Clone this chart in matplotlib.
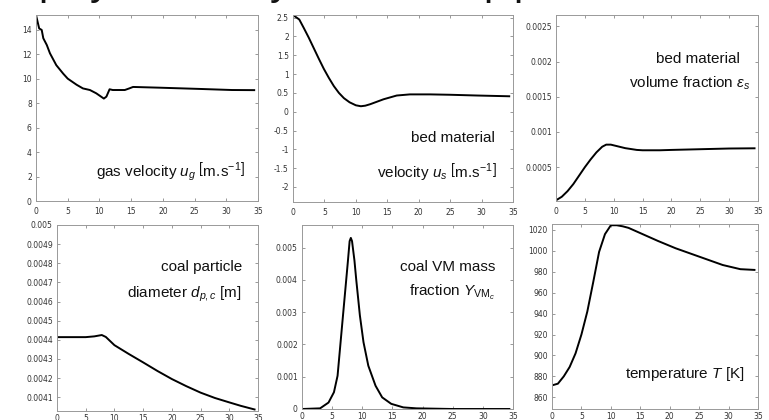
import matplotlib
matplotlib.use("Agg")
import matplotlib.pyplot as plt
from matplotlib.ticker import FormatStrFormatter, MultipleLocator

plt.rcParams.update({
    "font.family": "DejaVu Sans",
    "axes.unicode_minus": False,
    "mathtext.fontset": "custom",
    "mathtext.rm": "Liberation Sans",
    "mathtext.it": "Liberation Sans:italic",
    "mathtext.bf": "Liberation Sans:bold",
})

# gas velocity u_g [m/s]
ug_x = [0, 0.5, 0.9, 1.15, 1.7, 2.2, 3.2, 4.3, 5.0, 6.4, 7.4, 8.5, 9.5,
        10.7, 11.1, 11.6, 12.1, 14.0, 14.7, 15.3, 19.5, 25.7, 30.9, 34.4]
ug_y = [15.2, 14.1, 13.98, 13.3, 12.75, 12.07, 11.1, 10.4, 10.0, 9.5, 9.2,
        9.07, 8.8, 8.37, 8.53, 9.13, 9.07, 9.07, 9.2, 9.32, 9.26, 9.16, 9.07, 9.06]

# bed material velocity u_s [m/s]
us_x = [0, 1, 1.7, 2.5, 3.3, 4.1, 4.9, 5.7, 6.5, 7.3, 8.1, 9.0, 10.0, 10.8,
        11.5, 12.3, 14.4, 16.5, 18.6, 21.8, 25.0, 29.3, 34.4]
us_y = [2.57, 2.45, 2.23, 1.97, 1.69, 1.41, 1.14, 0.9, 0.68, 0.5, 0.36,
        0.25, 0.17, 0.145, 0.16, 0.2, 0.33, 0.43, 0.46, 0.46, 0.45, 0.43, 0.41]

# bed material volume fraction eps_s
eps_x = [0, 1, 2, 3, 4, 5, 6, 7, 8, 8.7, 9.5, 10.5, 12, 14, 15, 18, 20,
         25, 30, 34.4]
eps_y = [0.00003, 0.00008, 0.00016, 0.00026, 0.00038, 0.0005, 0.00061,
         0.00071, 0.00079, 0.00082, 0.00082, 0.0008, 0.00077, 0.000745,
         0.00074, 0.00074, 0.000745, 0.000755, 0.000765, 0.000768]

# coal particle diameter d_pc [m]
dp_x = [0, 5, 6.5, 7.8, 8.5, 10, 12.5, 15, 17.5, 20, 22.5, 25, 27.5, 30,
        32, 34.4]
dp_y = [0.004414, 0.004414, 0.004418, 0.004425, 0.004415, 0.004372,
        0.004326, 0.004282, 0.004237, 0.004195, 0.004158, 0.004124,
        0.004096, 0.004073, 0.004055, 0.004036]

# coal volatile matter mass fraction Y_VMc
yvm_x = [0, 3.0, 4.4, 5.3, 5.9, 6.4, 7.0, 7.6, 7.9, 8.1, 8.3, 8.7, 9.0,
         9.6, 10.2, 11.0, 12.2, 13.3, 14.8, 16.8, 19.0, 25, 34.4]
yvm_y = [0, 0.00002, 0.0002, 0.00052, 0.00103, 0.00207, 0.00331, 0.00455,
         0.0052, 0.0053, 0.0052, 0.0046, 0.0040, 0.0029, 0.00207, 0.00134,
         0.00072, 0.00036, 0.00016, 0.00005, 0.00002, 0.0, 0.0]

# temperature T [K]
temp_x = [0, 1, 2, 3, 4, 5, 6, 7, 8, 9, 10, 11, 12, 13, 15, 18, 21, 25,
          29, 32, 34.4]
temp_y = [871.4, 873, 880, 889, 902, 920, 942, 970, 999, 1016, 1024.5,
          1024.5, 1023.5, 1022, 1017, 1009.5, 1002.5, 994.5, 986.5, 982.5,
          981.8]

W, H = 769, 420
fig = plt.figure(figsize=(W / 100, H / 100), dpi=100)


def px_axes(left, top, right, bottom):
    return fig.add_axes([left / W, 1 - bottom / H,
                         (right - left) / W, (bottom - top) / H])


def style(ax, ylim, ystep, xpad):
    ax.set_xlim(0, 35)
    ax.set_ylim(*ylim)
    ax.xaxis.set_major_locator(MultipleLocator(5))
    ax.yaxis.set_major_locator(MultipleLocator(ystep))
    ax.yaxis.set_major_formatter(FormatStrFormatter("%g"))
    ax.tick_params(direction="in", length=2.5, width=0.6, color="#888888",
                   labelsize=5.5, labelcolor="#333333", top=True, right=True,
                   pad=3)
    ax.tick_params(axis="x", pad=xpad)
    for s in ax.spines.values():
        s.set_color("#999999")
        s.set_linewidth(0.7)


def label(ax, x, y, s):
    ax.text(x, y, s, transform=ax.transAxes, ha="right", va="baseline",
            fontsize=11, family="Liberation Sans", color="#111111")


line = dict(color="black", lw=1.4)
unit = r"$\left[\mathrm{m.}\!\mathrm{s}^{-1}\right]$"

ax1 = px_axes(36, 15, 258, 201)
ax1.plot(ug_x, ug_y, **line)
style(ax1, (0, 15.2), 2, 4)
label(ax1, 0.941, 0.129, r"gas velocity $u_g$ " + unit)

ax2 = px_axes(293, 15, 513, 202)
ax2.plot(us_x, us_y, **line)
style(ax2, (-2.4, 2.57), 0.5, 4)
label(ax2, 0.918, 0.322, "bed material")
label(ax2, 0.926, 0.135, r"velocity $u_s$ " + unit)

ax3 = px_axes(556, 15, 758, 201)
ax3.plot(eps_x, eps_y, **line)
style(ax3, (0.00002, 0.00266), 0.0005, 4)
label(ax3, 0.911, 0.74, "bed material")
label(ax3, 0.964, 0.612, r"volume fraction $\varepsilon_s$")

ax4 = px_axes(57, 225, 258, 411)
ax4.plot(dp_x, dp_y, **line)
style(ax4, (0.004028, 0.005), 0.0001, 2.5)
label(ax4, 0.92, 0.754, "coal particle")
label(ax4, 0.92, 0.612, r"diameter $d_{p,c}$ [m]")

ax5 = px_axes(302, 225, 513, 409)
ax5.plot(yvm_x, yvm_y, **line)
style(ax5, (0, 0.0057), 0.001, 2.5)
label(ax5, 0.915, 0.752, "coal VM mass")
label(ax5, 0.915, 0.612, r"fraction $Y_{\mathrm{VM}_c}$")

ax6 = px_axes(552, 224, 758, 409)
ax6.plot(temp_x, temp_y, **line)
style(ax6, (848.8, 1025.7), 20, 2.5)
label(ax6, 0.937, 0.168, r"temperature $T$ [K]")

# slide title cut off by the crop: only the descenders remain visible
for ch, xp in [("p", 50), ("y", 100), ("y", 280), ("p", 495), ("p", 525)]:
    fig.text(xp / W, 1 + 6 / H, ch, fontsize=30, family="Liberation Sans",
             ha="center", va="baseline", color="#111111")

fig.savefig("out.png", dpi=100)
